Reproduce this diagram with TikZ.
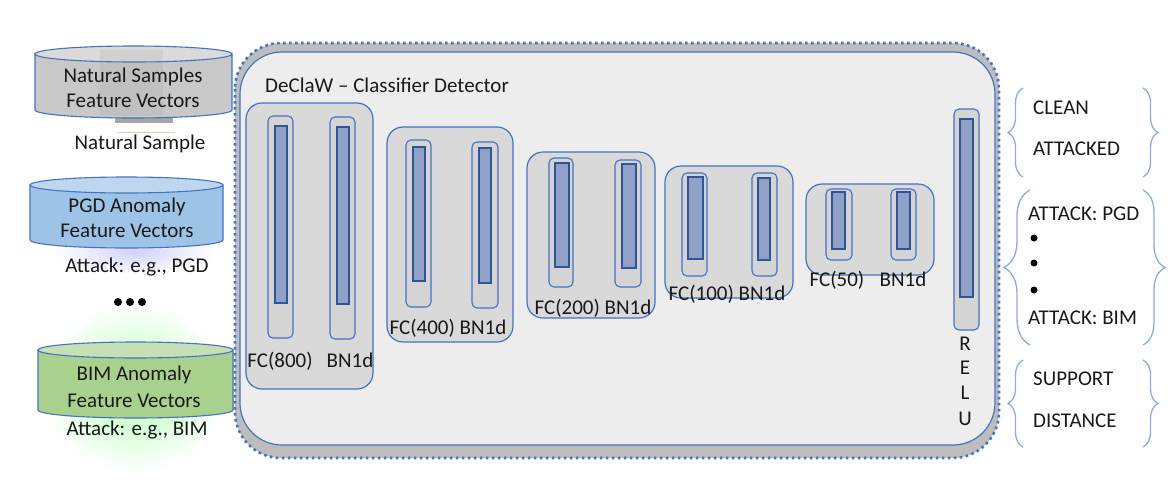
\documentclass[tikz,border=0pt]{standalone}
\usepackage{fontspec}
\setmainfont{Carlito}
\usetikzlibrary{decorations.pathreplacing}
\definecolor{bord}{HTML}{4472C4}
\definecolor{bardk}{HTML}{2F5597}
\definecolor{barfill}{RGB}{143,161,199}
\definecolor{grpfill}{HTML}{D9D9D9}
\definecolor{pillfill}{HTML}{D4D4D4}
\definecolor{boxfill}{HTML}{EDEDED}
\definecolor{shadowgray}{HTML}{BDBDBD}
\definecolor{graybody}{HTML}{C8C8C8}
\definecolor{graytop}{HTML}{DADADA}
\definecolor{bluebody}{HTML}{9DC3E6}
\definecolor{bluetop}{HTML}{BDD7EE}
\definecolor{greenbody}{HTML}{A9D18E}
\definecolor{greentop}{HTML}{C5E0B4}
\definecolor{bracecol}{HTML}{8FAADC}
\newcommand\mycyl[6]{%
  \draw[cylst, fill=#5] (#1,#3) -- (#1,#4) arc[start angle=180, end angle=0, x radius={(#2-#1)/2}, y radius=8] -- (#2,#3) -- cycle;
  \draw[cylst, fill=#6] ({(#1+#2)/2},#3) ellipse [x radius={(#2-#1)/2}, y radius=8];
}
\begin{document}
\begin{tikzpicture}[x=1pt,y=-1pt,
  every node/.style={font=\fontsize{21}{25}\selectfont, inner sep=0pt, text=black!90},
  cylst/.style={draw=bord, line width=1.1pt},
  grp/.style={draw=bord, fill=grpfill, line width=1.2pt, rounded corners=16pt},
  pill/.style={draw=bord, fill=pillfill, line width=1.1pt, rounded corners=5pt},
  bar/.style={draw=bardk, fill=barfill, line width=1.1pt},
  bracest/.style={draw=bracecol, line width=1.3pt, decorate},
  lab/.style={anchor=base},
  blab/.style={anchor=base west},
  dotst/.style={fill=black}
]
\useasboundingbox (0,0) rectangle (1173,480);

% glows
\shade[inner color=green!30!white, outer color=white] (135,388) ellipse [x radius=92, y radius=85];
\shade[inner color=blue!18!white, outer color=white] (135,252) ellipse [x radius=80, y radius=22];

% cylinders
\fill[gray!70] (115,112) rectangle (173,123);
\draw[brown!40, line width=0.8pt] (117,132) -- (175,132);
\mycyl{35}{232}{54}{110}{graybody}{graytop}
\fill[gray, opacity=0.1] (100,50) rectangle (163,116);
\mycyl{30}{223}{185}{240}{bluebody}{bluetop}
\mycyl{38}{233}{350}{410}{greenbody}{greentop}

\node[lab] (ns1) at (133,82) {Natural Samples};
\node[lab] (ns2) at (133,107) {Feature Vectors};
\node[lab] (ns3) at (140,149) {Natural Sample};
\node[lab] (pg1) at (127,212) {PGD Anomaly};
\node[lab] (pg2) at (127,237) {Feature Vectors};
\node[lab] (pg3) at (137,272) {Attack: e.g., PGD};
\fill[dotst] (118,302) circle[radius=4] (130,302) circle[radius=4] (142,302) circle[radius=4];
\node[lab] (bi1) at (134,380) {BIM Anomaly};
\node[lab] (bi2) at (134,407) {Feature Vectors};
\node[lab] (bi3) at (137,435) {Attack: e.g., BIM};

% main box
\draw[fill=shadowgray, draw=bord, line width=2.6pt, dash pattern=on 2.6pt off 3.4pt, rounded corners=46pt] (235,43) rectangle (999,458);
\draw[fill=boxfill, draw=bord, line width=1.2pt, rounded corners=42pt] (240,52) rectangle (995,445);
\node[blab] (title) at (265,92) {DeClaW -- Classifier Detector};

% group 1
\draw[grp] (246,103) rectangle (373,389);
\draw[pill] (268,116) rectangle (293,338);
\draw[bar] (275,126) rectangle (287,303);
\draw[pill] (330,117) rectangle (355,339);
\draw[bar] (337,127) rectangle (349,304);
\node[lab] (l1a) at (280,367) {FC(800)};
\node[lab] (l1b) at (350,367) {BN1d};

% group 2
\draw[grp] (387,127) rectangle (513,342);
\draw[pill] (406,140) rectangle (431,307);
\draw[bar] (413,147) rectangle (425,281);
\draw[pill] (472,142) rectangle (498,308);
\draw[bar] (479,148) rectangle (491,283);
\node[lab] (l2) at (448,334) {FC(400) BN1d};

% group 3
\draw[grp] (527,152) rectangle (655,318);
\draw[pill] (549,158) rectangle (573,287);
\draw[bar] (555,163) rectangle (569,267);
\draw[pill] (615,160) rectangle (641,287);
\draw[bar] (622,164) rectangle (636,268);
\node[lab] (l3) at (593,314) {FC(200) BN1d};

% group 4
\draw[grp] (665,166) rectangle (793,298);
\draw[pill] (682,173) rectangle (707,276);
\draw[bar] (688,177) rectangle (703,259);
\draw[pill] (752,173) rectangle (777,276);
\draw[bar] (758,178) rectangle (770,260);
\node[lab] (l4) at (727,300) {FC(100) BN1d};

% group 5
\draw[grp] (806,184) rectangle (934,275);
\draw[pill] (826,189) rectangle (852,260);
\draw[bar] (832,192) rectangle (845,249);
\draw[pill] (891,189) rectangle (916,260);
\draw[bar] (897,192) rectangle (910,249);
\node[lab] (l5a) at (837,286) {FC(50)};
\node[lab] (l5b) at (903,286) {BN1d};

% RELU
\draw[pill] (954,109) rectangle (979,330);
\draw[bar] (960,119) rectangle (973,297);
\node[lab] (r1) at (965,350) {R};
\node[lab] (r2) at (965,374) {E};
\node[lab] (r3) at (965,399) {L};
\node[lab] (r4) at (965,425) {U};

% braces
\draw[bracest, decoration={brace, amplitude=15pt}] (1023,177) -- (1023,88);
\draw[bracest, decoration={brace, amplitude=15pt}] (1143,88) -- (1143,177);
\draw[bracest, decoration={brace, amplitude=26pt}] (1030,345) -- (1030,190);
\draw[bracest, decoration={brace, amplitude=22pt}] (1143,190) -- (1143,345);
\draw[bracest, decoration={brace, amplitude=15pt}] (1023,447) -- (1023,360);
\draw[bracest, decoration={brace, amplitude=15pt}] (1143,360) -- (1143,447);

\node[blab] (c1) at (1033,114) {CLEAN};
\node[blab] (c2) at (1033,155) {ATTACKED};
\node[blab] (a1) at (1028,220) {ATTACK: PGD};
\fill[dotst] (1034,238) circle[radius=3.5] (1034,263) circle[radius=3.5] (1034,290) circle[radius=3.5];
\node[blab] (a2) at (1028,324) {ATTACK: BIM};
\node[blab] (s1) at (1033,385) {SUPPORT};
\node[blab] (s2) at (1033,427) {DISTANCE};
\end{tikzpicture}
\end{document}
